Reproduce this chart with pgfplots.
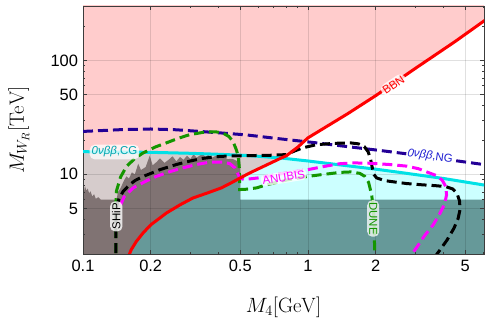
\documentclass[border=0pt]{standalone}
\usepackage[no-math]{fontspec}
\setmainfont{Liberation Sans}
\usepackage{pgfplots}
\pgfplotsset{compat=1.18}
\definecolor{pinkr}{RGB}{255,204,204}
\definecolor{lcyan}{RGB}{204,255,255}
\definecolor{gpink}{RGB}{214,204,204}
\definecolor{brownd}{RGB}{128,115,115}
\definecolor{tealr}{RGB}{102,153,153}
\definecolor{cgcol}{RGB}{0,225,230}
\definecolor{cgtext}{RGB}{0,165,175}
\definecolor{ngcol}{RGB}{35,0,150}
\definecolor{ngtext}{RGB}{30,30,210}
\definecolor{dunecol}{RGB}{20,150,0}
\definecolor{magc}{RGB}{255,0,255}
\definecolor{redc}{RGB}{255,0,0}
\definecolor{framec}{RGB}{60,60,60}
\begin{document}
\begin{tikzpicture}
\begin{axis}[
 set layers, clip mode=individual,
 at={(0,0)}, anchor=south west,
 scale only axis, width=401bp, height=248bp,
 xmode=log, ymode=log,
 xmin=0.1, xmax=6.06, ymin=2, ymax=300,
 xtick={0.1,0.2,0.5,1,2,5}, xticklabels={0.1,0.2,0.5,1,2,5},
 ytick={5,10,50,100}, yticklabels={5,10,50,100},
 minor xtick={0.3,0.4,0.6,0.7,0.8,0.9,3,4,6},
 minor ytick={2,3,4,6,7,8,9,20,30,40,60,70,80,90,200,300},
 tick align=inside,
 major tick length=4bp, minor tick length=2.5bp,
 every tick/.style={framec, line width=0.6bp},
 axis line style={framec, line width=0.8bp},
 grid=major, grid style={black, opacity=0.12, line width=0.6bp},
 ticklabel style={font=\fontsize{16.5}{19}\selectfont},
 xticklabel style={yshift=-3bp},
 yticklabel style={xshift=-1.5bp},
 xlabel={$M_4[\mathrm{GeV}]$}, ylabel={$M_{W_R}[\mathrm{TeV}]$},
 label style={font=\fontsize{22}{26}\selectfont},
 xlabel style={at={(axis description cs:0.5,-0.216)}, anchor=center},
 ylabel style={at={(axis description cs:-0.16,0.5)}, anchor=center},
 dashed line/.style={line width=3bp, dash pattern=on 10bp off 5bp},
]
% ---- regions ----
\addplot[draw=none, fill=pinkr, on layer=axis background] coordinates {
 (0.09,1) (0.155,1) (0.157,1.7) (0.161,2.0) (0.1636,2.17) (0.1727,2.58) (0.185,3.06) (0.2,3.6) (0.235,4.58) (0.27,5.4) (0.308,6.2) (0.36,6.9) (0.412,7.6) (0.46,8.5) (0.5,9.3) (0.552,10.3) (0.76,13.9) (0.804,14.6) (0.85,15.9) (0.9,17.3) (1.0,20.9) (1.5,34) (2.0,49) (3,85) (4.5,146) (6.2,229) (6.5,500) (0.09,500)} -- cycle;
\addplot[draw=none, fill=lcyan, on layer=axis background] coordinates {
 (0.09,1) (0.09,15.9) (0.1,15.8) (0.2,15.6) (0.3,15.3) (0.4,15.0) (0.55,14.6) (0.76,13.9) (1.0,13.1) (1.39,12.1) (2.0,11.1) (2.56,10.4) (4.0,9.2) (6.2,8.0) (6.5,7.9) (6.5,1)} -- cycle;
\addplot[draw=none, fill=gpink, on layer=axis background] coordinates {
 (0.09,1) (0.09,15.9) (0.1,15.8) (0.2,15.6) (0.3,15.3) (0.4,15.0) (0.55,14.6) (0.76,13.9) (0.552,10.3) (0.5,9.3) (0.46,8.5) (0.412,7.6) (0.36,6.9) (0.308,6.2) (0.27,5.4) (0.235,4.58) (0.2,3.6) (0.185,3.06) (0.1727,2.58) (0.1636,2.17) (0.161,2.0) (0.157,1.7) (0.155,1)} -- cycle;
\addplot[draw=none, fill=brownd, on layer=axis background] coordinates {
 (0.09,1) (0.09,7.6) (0.1,7.6) (0.101,7.0) (0.102,7.9) (0.1035,7.2) (0.105,7.5) (0.1065,6.8) (0.108,7.1) (0.11,6.4) (0.112,6.7) (0.114,6.1) (0.117,6.3) (0.12,6.0) (0.141,6.0) (0.143,7.0) (0.147,7.6) (0.152,8.8) (0.156,9.6) (0.16,9.2) (0.165,10.4) (0.17,10.0) (0.176,12.4) (0.181,10.9) (0.19,11.6) (0.198,14.6) (0.204,12.0) (0.212,12.8) (0.22,13.8) (0.23,12.6) (0.24,13.4) (0.25,14.4) (0.26,13.0) (0.27,14.2) (0.28,13.4) (0.29,14.6) (0.3,13.6) (0.31,15.0) (0.32,14.0) (0.33,14.6) (0.341,15.1) (0.35,14.2) (0.36,14.8) (0.375,14.0) (0.39,14.6) (0.405,13.9) (0.42,14.3) (0.44,13.6) (0.46,13.7) (0.48,13.2) (0.495,12.6) (0.5,12.4) (0.5,1)} -- cycle;
\addplot[draw=none, fill=tealr, on layer=axis background] coordinates {
 (0.155,1) (0.157,1.7) (0.161,2.0) (0.1636,2.17) (0.1727,2.58) (0.185,3.06) (0.2,3.6) (0.235,4.58) (0.27,5.4) (0.308,6.2) (0.36,6.9) (0.412,7.6) (0.46,8.5) (0.5,9.3) (0.5,6.0) (6.5,6.0) (6.5,1)} -- cycle;
% ---- lines ----
\addplot[cgcol, line width=3bp] coordinates {
 (0.09,15.9) (0.1,15.8) (0.2,15.6) (0.3,15.3) (0.4,15.0) (0.55,14.6) (0.76,13.9) (1.0,13.1) (1.39,12.1) (2.0,11.1) (2.56,10.4) (4.0,9.2) (6.2,8.0)};
\addplot[ngcol, dashed line] coordinates {
 (0.1,23.8) (0.15,24.7) (0.2,25.0) (0.26,24.6) (0.33,23.8) (0.42,23.0) (0.53,22.2) (0.75,20.5) (1.09,18.9) (1.5,17.5) (2.09,16.2) (2.56,15.4) (3.5,14.2) (4.5,13.2) (6.2,12.1)};
\addplot[dunecol, dashed line] coordinates {
 (0.14,1.5) (0.14,5.5) (0.1407,7.1) (0.147,9.5) (0.156,11.7) (0.17,13.8) (0.185,15.4) (0.21,17.4) (0.235,18.9) (0.265,20.7) (0.298,22.3) (0.353,23.6) (0.39,23.6) (0.419,23.0) (0.445,21.5) (0.464,19.5) (0.48,16.5) (0.49,14.4) (0.495,11.5) (0.497,9.0) (0.497,7.35) (0.53,7.4) (0.59,7.6) (0.656,8.1) (0.8,8.9) (1.0,9.6) (1.13,9.9) (1.39,10.4) (1.55,10.5) (1.7,10.2) (1.79,9.6) (1.86,8.5) (1.92,6.6) (1.95,5.0) (1.97,3.5) (1.98,2.0) (1.98,1.5)};
\addplot[black, dashed line] coordinates {
 (0.14,1.5) (0.14,4.5) (0.1415,5.4) (0.145,6.2) (0.151,7.1) (0.16,8.0) (0.17,8.8) (0.183,9.5) (0.198,10.1) (0.22,11.0) (0.24,11.6) (0.26,12.2) (0.3,13.1) (0.341,13.8) (0.39,14.3) (0.45,14.5) (0.55,14.6) (0.68,14.7) (0.8,14.9) (0.87,16.0) (0.95,17.1) (1.09,18.2) (1.3,18.7) (1.54,18.9) (1.68,18.5) (1.78,17.5) (1.85,15.8) (1.9,13.5) (1.93,11.5) (1.96,10.0) (2.02,9.3) (2.2,8.8) (2.5,8.5) (2.75,8.3) (3.2,8.1) (3.7,7.95) (4.1,7.8) (4.4,7.45) (4.6,6.8) (4.72,5.8) (4.74,4.9) (4.65,4.1) (4.45,3.35) (4.15,2.65) (3.85,2.15) (3.6,1.8)};
\addplot[magc, dashed line] coordinates {
 (0.147,5.4) (0.152,6.3) (0.167,7.6) (0.19,8.7) (0.212,9.6) (0.245,10.6) (0.278,11.4) (0.32,12.2) (0.366,12.8) (0.42,12.8) (0.45,12.4) (0.473,11.4) (0.487,10.2) (0.497,9.3) (0.52,9.0) (0.6,9.3) (0.78,10.2) (1.0,11.0) (1.2,11.8) (1.39,12.4) (1.6,12.6) (1.9,12.5) (2.3,12.2) (2.75,11.8) (3.1,11.2) (3.37,10.5) (3.7,9.8) (3.95,8.9) (4.1,7.8) (4.13,6.6) (4.05,5.5) (3.85,4.5) (3.6,3.6) (3.3,2.9) (3.05,2.3) (2.9,2.0) (2.8,1.8)};
\addplot[redc, line width=3bp] coordinates {
 (0.157,1.7) (0.161,2.0) (0.1636,2.17) (0.1727,2.58) (0.185,3.06) (0.2,3.6) (0.235,4.58) (0.27,5.4) (0.308,6.2) (0.36,6.9) (0.412,7.6) (0.46,8.5) (0.5,9.3) (0.552,10.3) (0.76,13.9) (0.804,14.6) (0.85,15.9) (0.9,17.3) (1.0,20.9) (1.5,34) (2.0,49) (3,85) (4.5,146) (6.2,229)};
% ---- labels ----
\node[fill=white, fill opacity=0.75, text opacity=1, rounded corners=5bp, inner sep=2bp, text=cgtext, font=\fontsize{11.5}{13}\selectfont] at (axis cs:0.138,15.7) {\textit{0νββ},CG};
\node[fill=white, inner sep=1bp, text=ngtext, rotate=-8, font=\fontsize{11.5}{13}\selectfont] at (axis cs:3.49,14.4) {\textit{0νββ},NG};
\node[fill=white, fill opacity=0.8, text opacity=1, rounded corners=6bp, inner sep=2bp, text=redc, rotate=34, font=\fontsize{11.5}{13}\selectfont] at (axis cs:2.4,61) {BBN};
\node[fill=white, fill opacity=0.8, text opacity=1, rounded corners=4bp, inner sep=1.5bp, text=magc, rotate=9, font=\fontsize{11.5}{13}\selectfont] at (axis cs:0.78,9.4) {ANUBIS};
\node[fill=white, fill opacity=0.8, text opacity=1, rounded corners=5bp, inner sep=2bp, text=black, rotate=90, font=\fontsize{11.5}{13}\selectfont] at (axis cs:0.1406,4.28) {SHiP};
\node[fill=white, fill opacity=0.75, text opacity=1, rounded corners=5bp, inner sep=2bp, text=dunecol, rotate=-90, font=\fontsize{11.5}{13}\selectfont] at (axis cs:1.95,4.1) {DUNE};
\end{axis}
\pgfresetboundingbox
\path[use as bounding box] (-83bp,-73bp) rectangle (410bp,254bp);
\end{tikzpicture}
\end{document}
